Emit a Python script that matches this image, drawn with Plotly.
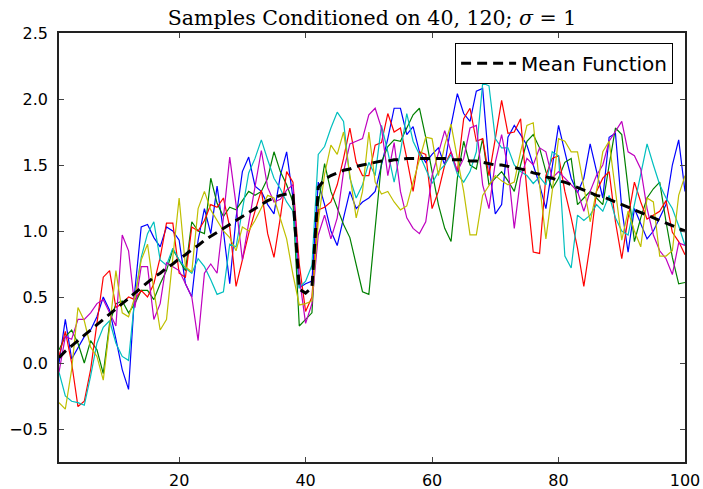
import plotly.graph_objects as go

# x positions 1..100
x_vals = list(range(1, 101))

# sample paths, one list per matplotlib colour
blue = [0.0, 0.33, 0.03, 0.12, 0.2, 0.25, 0.35, 0.5, 0.4, 0.18,
        -0.05, -0.2, 0.55, 1.03, 1.05, 0.95, 0.88, 1.03, 1.0, 0.93,
        0.6, 0.5, 0.93, 1.17, 0.98, 1.34, 1.0, 0.6, 1.1, 1.45,
        1.56, 1.34, 1.3, 1.2, 1.13, 1.42, 1.6, 1.25, 0.57, 0.6,
        0.62, 1.37, 1.2, 1.0, 0.89, 1.1, 1.3, 1.17, 1.22, 1.25,
        1.3, 1.5, 1.7, 1.93, 1.93, 1.73, 1.79, 1.6, 1.52, 1.58,
        1.63, 1.5, 1.8, 2.04, 1.89, 1.83, 2.06, 2.08, 1.5, 1.13,
        1.2, 1.71, 1.8, 1.73, 1.65, 1.5, 1.35, 1.17, 1.5, 1.8,
        1.6, 1.4, 1.29, 1.4, 1.66, 1.45, 1.25, 1.71, 1.74, 1.17,
        0.84, 1.17, 1.05, 0.94, 1.0, 1.1, 1.2, 1.5, 1.69, 1.3]

green = [0.1, 0.2, 0.25, 0.15, 0.0, 0.17, 0.1, -0.08, 0.3, 0.45,
         0.47, 0.38, 0.45, 0.55, 0.55, 0.48, 0.6, 0.7, 0.86, 0.78,
         0.7, 1.07, 1.0, 0.98, 1.4, 1.21, 1.11, 1.18, 1.16, 1.23,
         1.3, 1.27, 1.3, 1.4, 1.6, 1.45, 1.35, 1.22, 0.28, 0.33,
         0.38, 1.2, 1.51, 1.3, 1.17, 1.05, 0.95, 0.75, 0.54, 0.52,
         1.0, 1.52, 1.64, 1.69, 1.68, 1.78, 1.88, 1.93, 1.71, 1.45,
         1.2, 1.02, 0.92, 1.4, 1.68, 1.5, 1.47, 1.7, 1.35, 1.4,
         1.45, 1.38, 1.3, 1.5, 1.68, 1.73, 1.63, 1.45, 1.32, 1.4,
         1.52, 1.55, 1.2, 1.25, 1.3, 1.25, 1.2, 1.5, 1.78, 1.73,
         1.32, 0.92, 1.1, 1.25, 1.32, 1.37, 1.07, 0.8, 0.6, 0.61]

red = [0.05, 0.24, 0.0, -0.33, -0.29, -0.05, 0.3, 0.65, 0.7, 0.42,
       0.45, 0.5, 0.48, 0.55, 0.5, 0.6, 0.8, 1.06, 1.06, 0.68,
       0.65, 1.03, 1.0, 1.08, 1.2, 1.18, 1.25, 1.03, 0.58, 0.78,
       0.98, 1.15, 1.31, 0.98, 0.8, 1.1, 1.45, 1.37, 0.75, 0.39,
       0.5, 1.16, 1.18, 1.22, 1.35, 1.55, 1.78, 1.52, 1.42, 1.42,
       1.65, 1.67, 1.89, 1.75, 1.78, 1.55, 1.3, 1.6, 1.58, 1.17,
       1.3, 1.5, 1.6, 1.45, 1.85, 1.93, 1.68, 1.7, 1.42, 1.7,
       1.99, 1.74, 1.75, 1.85, 1.3, 0.84, 0.83, 1.42, 1.55, 1.57,
       1.3, 1.1, 0.87, 0.58, 0.9, 1.3, 1.4, 1.45, 1.07, 0.79,
       1.1, 1.37, 1.22, 1.09, 1.12, 1.15, 1.23, 0.99, 0.92, 0.82]

cyan = [-0.07, -0.25, -0.29, -0.3, -0.32, -0.1, 0.15, 0.27, 0.32, 0.15,
        0.05, 0.02, 0.5, 0.8, 0.98, 1.07, 0.78, 0.74, 0.87, 0.78,
        0.72, 0.68, 0.79, 0.73, 0.63, 0.52, 0.54, 0.9, 0.88, 1.16,
        1.44, 1.55, 1.69, 1.54, 1.4, 1.32, 1.22, 1.15, 0.57, 0.62,
        0.74, 1.58, 1.64, 1.78, 1.9, 1.83, 1.4, 1.25, 1.35, 1.52,
        1.42, 1.8, 1.6, 1.37, 1.6, 1.89, 1.68, 1.58, 1.47, 1.36,
        1.45, 1.5, 1.58, 1.43, 1.37, 1.45, 1.6, 2.12, 2.1, 1.7,
        1.63, 1.63, 1.5, 1.45, 1.42, 1.36, 1.41, 1.35, 1.6, 1.57,
        0.81, 0.72, 1.12, 1.08, 1.12, 1.2, 1.15, 1.27, 1.1, 1.0,
        0.97, 1.2, 1.45, 1.66, 1.5, 1.35, 1.25, 1.17, 1.04, 0.89]

magenta = [-0.07, 0.2, 0.18, 0.33, 0.33, 0.38, 0.45, 0.48, 0.38, 0.28,
           0.97, 0.85, 0.42, 0.73, 0.73, 0.33, 0.45, 0.76, 0.73, 0.7,
           0.6, 0.5, 0.17, 0.68, 0.75, 0.68, 1.1, 1.56, 1.2, 0.78,
           1.06, 1.33, 1.61, 1.33, 1.22, 1.24, 1.31, 1.35, 0.65, 0.3,
           0.45, 0.97, 1.12, 0.94, 1.1, 1.45, 1.66, 1.68, 1.7, 1.88,
           1.93, 1.78, 1.42, 1.67, 1.3, 1.1, 1.02, 0.98, 1.07, 1.42,
           1.6, 1.76, 1.6, 1.45, 1.55, 1.78, 1.8, 1.35, 1.17, 1.52,
           1.73, 1.48, 1.02, 1.4, 1.55, 1.5, 1.63, 1.6, 1.4, 1.45,
           1.4, 1.35, 1.3, 1.15, 1.3, 1.42, 1.5, 1.68, 1.75, 1.83,
           1.6, 1.57, 1.47, 1.17, 0.97, 0.85, 0.79, 0.67, 0.91, 0.89]

yellow = [-0.3, -0.35, -0.05, 0.42, 0.32, 0.12, 0.05, -0.13, 0.27, 0.7,
          0.38, 0.35, 0.5, 0.78, 0.9, 0.55, 0.25, 0.33, 0.8, 1.25,
          0.73, 0.69, 1.17, 1.3, 1.16, 1.08, 1.0, 0.95, 0.85, 1.03,
          1.0, 1.08, 1.18, 1.27, 1.25, 1.1, 0.94, 0.67, 0.44, 0.45,
          0.47, 1.07, 1.43, 1.65, 1.58, 1.75, 1.42, 1.1, 1.3, 1.75,
          1.37, 1.28, 1.3, 1.22, 1.16, 1.19, 1.37, 1.53, 1.71, 1.7,
          1.42, 1.65, 1.81, 1.55, 1.3, 0.97, 0.97, 1.27, 1.35, 1.42,
          1.38, 1.35, 1.37, 1.6, 1.8, 1.82, 1.35, 0.94, 1.3, 1.7,
          1.68, 1.6, 1.6, 1.35, 1.07, 1.3, 1.6, 1.68, 1.3, 0.93,
          1.15, 1.0, 0.88, 1.25, 1.22, 0.81, 0.81, 0.85, 1.27, 1.42]

mean_fn = [0.04, 0.09, 0.13, 0.17, 0.21, 0.25, 0.29, 0.33, 0.37, 0.41,
           0.45, 0.49, 0.53, 0.57, 0.61, 0.65, 0.68, 0.72, 0.75, 0.79,
           0.82, 0.86, 0.89, 0.93, 0.96, 0.99, 1.02, 1.05, 1.08, 1.11,
           1.14, 1.17, 1.2, 1.23, 1.25, 1.27, 1.28, 1.27, 0.56, 0.53,
           0.57, 1.33, 1.39, 1.42, 1.44, 1.46, 1.47, 1.49, 1.5, 1.51,
           1.52, 1.53, 1.53, 1.54, 1.54, 1.55, 1.55, 1.55, 1.55, 1.55,
           1.55, 1.55, 1.54, 1.54, 1.54, 1.53, 1.53, 1.52, 1.51, 1.5,
           1.5, 1.49, 1.48, 1.47, 1.46, 1.44, 1.43, 1.41, 1.4, 1.38,
           1.37, 1.35, 1.33, 1.31, 1.29, 1.27, 1.26, 1.24, 1.22, 1.2,
           1.18, 1.16, 1.14, 1.12, 1.1, 1.08, 1.06, 1.04, 1.02, 1.0]

samples = [blue, green, red, cyan, magenta, yellow]
# matplotlib "classic" b, g, r, c, m, y
colors = ['#0000ff', '#008000', '#ff0000', '#00bfbf', '#bf00bf', '#bfbf00']

fig = go.Figure()

for ys, col in zip(samples, colors):
    fig.add_trace(go.Scatter(
        x=x_vals, y=ys,
        mode='lines',
        line=dict(color=col, width=1.2),
        showlegend=False,
        hoverinfo='skip'
    ))

fig.add_trace(go.Scatter(
    x=x_vals, y=mean_fn,
    mode='lines',
    line=dict(color='black', width=3, dash='10px,6px'),
    name='Mean Function'
))

axis_style = dict(
    showgrid=False, zeroline=False, automargin=False,
    showline=True, linecolor='#222222', linewidth=1.5,
    mirror='ticks', ticks='inside', ticklen=5, tickcolor='#444444',
    tickfont=dict(family='DejaVu Sans', size=16, color='black'),
)

fig.update_layout(
    width=703, height=489,
    margin=dict(l=59, r=18, t=33, b=27),
    paper_bgcolor='white',
    plot_bgcolor='white',
    title=dict(
        text='Samples Conditioned on 40, 120; <i>σ</i> = 1',
        font=dict(family='DejaVu Serif', size=20.5, color='black'),
        x=0.5, xref='paper', xanchor='center',
        y=1 - 18 / 489, yref='container', yanchor='middle'
    ),
    legend=dict(
        x=0.981, y=0.977, xanchor='right', yanchor='top',
        bgcolor='white', bordercolor='black', borderwidth=1,
        itemwidth=55,
        font=dict(family='DejaVu Sans', size=20, color='black')
    ),
    xaxis=dict(range=[1, 100], tickvals=[20, 40, 60, 80, 100],
               ticklabelstandoff=3, **axis_style),
    yaxis=dict(range=[-0.75, 2.5], dtick=0.5, tick0=0, tickformat='.1f',
               ticklabelstandoff=6, **axis_style),
)

# drop the browser's default 8px body margin so the figure sits at (0, 0)
fig.write_html(
    "out.html",
    config={'displayModeBar': False},
    post_script="document.body.style.margin='0';document.body.style.overflow='hidden';"
)
